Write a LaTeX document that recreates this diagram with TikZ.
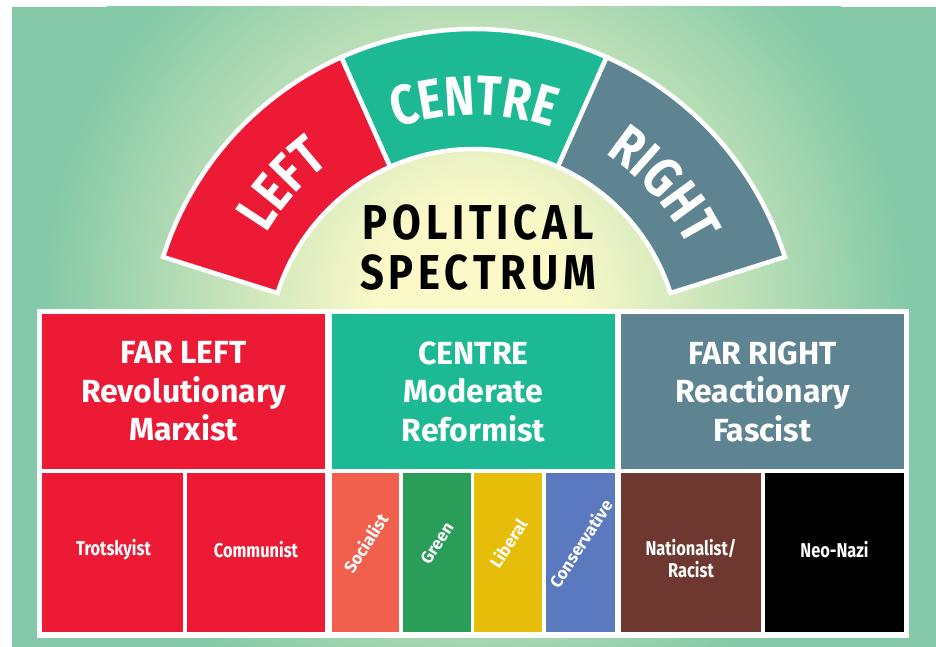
\documentclass[tikz,border=0pt]{standalone}
\usepackage{fontspec}
\setmainfont{Fira Sans}
\newfontfamily\condsans{Fira Sans}[FakeStretch=0.82]
\newfontfamily\titlesans{Fira Sans}[FakeStretch=0.85, LetterSpace=10]
\newfontfamily\plainsans{Fira Sans}
\usetikzlibrary{decorations.text}
\definecolor{bggreen}{HTML}{84C9A8}
\definecolor{glowyel}{HTML}{FCF9C8}
\definecolor{leftred}{HTML}{ED1A36}
\definecolor{centreteal}{HTML}{1DB994}
\definecolor{rightslate}{HTML}{5E8391}
\definecolor{socred}{HTML}{F0604D}
\definecolor{partygreen}{HTML}{2A9D58}
\definecolor{libyellow}{HTML}{E6BE0A}
\definecolor{conblue}{HTML}{5A79BE}
\definecolor{natbrown}{HTML}{6E3830}
\pgfdeclareradialshading{bgglow}{\pgfpoint{0bp}{0bp}}{color(0bp)=(glowyel); color(5bp)=(glowyel); color(23bp)=(bggreen); color(50bp)=(bggreen)}
\newcommand\archfont{\condsans\bfseries\fontsize{56pt}{60pt}\selectfont}
\newcommand\headfont{\bfseries\fontsize{32pt}{38.5pt}\selectfont}
\newcommand\subfont{\condsans\bfseries\fontsize{20pt}{22pt}\selectfont}
\tikzset{
  cell/.style={rectangle, inner sep=0pt, text=white, align=center},
  celltext/.style={text=white, inner sep=0pt, align=center, font=\subfont},
  arcseg/.style={draw=white, line width=4.5pt, line join=miter},
  archlabel/.style={decorate, decoration={text along path, text align=center, text color=white, text={#1}}},
  rotlabel/.style={text=white, rotate=57, inner sep=0pt, font=\plainsans\bfseries\fontsize{17pt}{20pt}\selectfont},
}
\begin{document}
\begin{tikzpicture}[x=1pt,y=1pt]
\pgfmathsetmacro{\ro}{326}
\pgfmathsetmacro{\ri}{206}
\pgfmathsetmacro{\rt}{240}
\useasboundingbox (0,0) rectangle (936,647);
\fill[white] (0,0) rectangle (936,647);
% background glow
\fill[bggreen] (12,0) rectangle (936,640);
\begin{scope}
\clip (12,0) rectangle (936,640);
\shade[shading=bgglow] (474,347) circle (470pt);
\end{scope}
% arch
\coordinate (hub) at (474,292);
\draw[arcseg, fill=leftred]([shift={(162.5:\ro pt)}]hub) arc (162.5:114:\ro pt)--([shift={(114:\ri pt)}]hub) arc (114:162.5:\ri pt)--cycle;
\draw[arcseg, fill=centreteal]([shift={(114:\ro pt)}]hub) arc (114:66:\ro pt)--([shift={(66:\ri pt)}]hub) arc (66:114:\ri pt)--cycle;
\draw[arcseg, fill=rightslate]([shift={(66:\ro pt)}]hub) arc (66:17.5:\ro pt)--([shift={(17.5:\ri pt)}]hub) arc (17.5:66:\ri pt)--cycle;
\path[archlabel={|\archfont|LEFT}]([shift={(162.5:\rt pt)}]hub) arc (162.5:114:\rt pt);
\path[archlabel={|\archfont|CENTRE}]([shift={(114:\rt pt)}]hub) arc (114:66:\rt pt);
\path[archlabel={|\archfont|RIGHT}]([shift={(66:\rt pt)}]hub) arc (66:17.5:\rt pt);
\node[anchor=base, font=\titlesans\bfseries\fontsize{49pt}{52pt}\selectfont] (title1) at (478,407) {POLITICAL};
\node[anchor=base, font=\titlesans\bfseries\fontsize{49pt}{52pt}\selectfont] (title2) at (478,357) {SPECTRUM};
% panel
\fill[white] (37,9) rectangle (909,338);
\node[cell, fill=leftred, minimum width=283pt, minimum height=155pt, font=\headfont] (farleft) at (183.5,255.5) {FAR LEFT\\Revolutionary\\Marxist};
\node[cell, fill=centreteal, minimum width=283pt, minimum height=155pt, font=\headfont] (centre) at (473.5,255.5) {CENTRE\\Moderate\\Reformist};
\node[cell, fill=rightslate, minimum width=283pt, minimum height=155pt, font=\headfont] (farright) at (762.5,255.5) {FAR RIGHT\\Reactionary\\Fascist};
\node[cell, fill=leftred, minimum width=141pt, minimum height=159pt] (trotskyist) at (112.5,94.5) {};
\node[cell, fill=leftred, minimum width=138pt, minimum height=159pt] (communist) at (256,94.5) {};
\node[cell, fill=socred, minimum width=67pt, minimum height=159pt] (socialist) at (365.5,94.5) {};
\node[cell, fill=partygreen, minimum width=68pt, minimum height=159pt] (green) at (437,94.5) {};
\node[cell, fill=libyellow, minimum width=68pt, minimum height=159pt] (liberal) at (508,94.5) {};
\node[cell, fill=conblue, minimum width=69pt, minimum height=159pt] (conservative) at (580.5,94.5) {};
\node[cell, fill=natbrown, minimum width=140pt, minimum height=159pt] (nationalist) at (691,94.5) {};
\node[cell, fill=black, minimum width=139pt, minimum height=159pt] (neonazi) at (834.5,94.5) {};
\node[celltext] (trotskyisttext) at ([xshift=1pt,yshift=3pt]trotskyist.center) {Trotskyist};
\node[celltext] (communisttext) at ([yshift=3pt]communist.center) {Communist};
\node[rotlabel] (socialisttext) at ([yshift=9pt]socialist.center) {Socialist};
\node[rotlabel] (greentext) at ([yshift=9pt]green.center) {Green};
\node[rotlabel] (liberaltext) at ([yshift=9pt]liberal.center) {Liberal};
\node[rotlabel] (conservativetext) at ([yshift=9pt]conservative.center) {Conservative};
\node[celltext] (nationalisttext) at ([yshift=-6pt]nationalist.center) {Nationalist/\\Racist};
\node[celltext] (neonazitext) at ([yshift=3pt]neonazi.center) {Neo-Nazi};
\end{tikzpicture}
\end{document}
